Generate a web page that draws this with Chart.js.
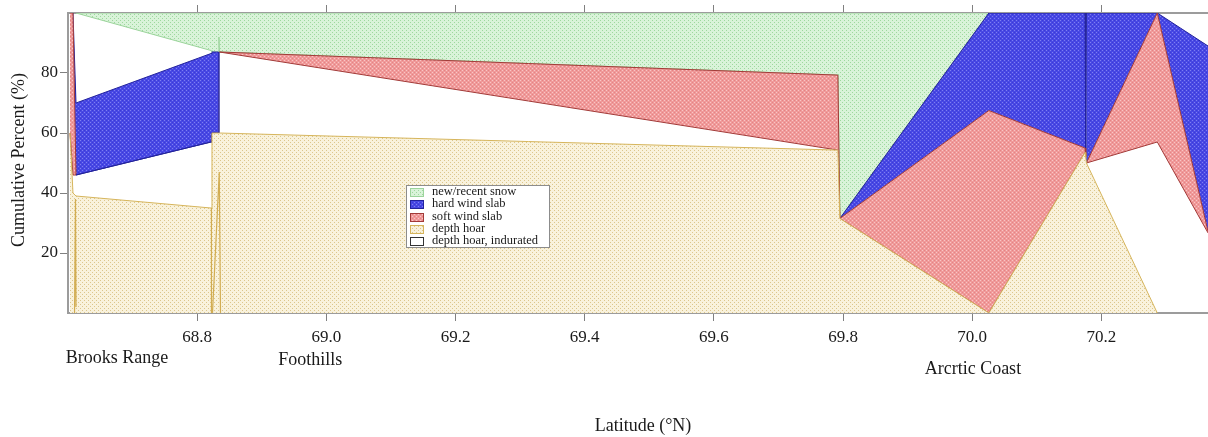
<!DOCTYPE html>
<html>
<head>
<meta charset="utf-8">
<script src="https://cdn.jsdelivr.net/npm/chart.js@4.4.1/dist/chart.umd.min.js"></script>
<style>
  html, body { margin: 0; padding: 0; background: #ffffff; }
  #wrap { width: 1208px; height: 437px; }
</style>
</head>
<body>
<div id="wrap"><canvas id="c" width="1208" height="437"></canvas></div>
<script>
// Snow-pit sites along the transect (latitude, °N)
const siteLat = [68.6031, 68.6077, 68.6124, 68.8214, 68.8229, 68.8330, 68.8337, 68.8345,
                 69.7920, 69.7950, 70.0257, 70.1746, 70.1757, 70.1768, 70.2865, 70.3650];

// Percent of snowpack depth in each layer class, listed bottom to top
const depthHoar    = [60, 40, 39, 35, 60, 60, 60, 60, 54.3, 31.5, 0,    53.5, 52, 50, 0,  0];
const indurated    = [0,  6,  7,  22, 0,  0,  27, 27, 0,    0,    0,    0,    0,  0,  57, 26.7];
const softSlab     = [40, 54, 0,  0,  0,  0,  0,  0,  25,   0,    67.5, 1.5,  0,  0,  43, 0.5];
const hardSlab     = [0,  0,  24, 29.5, 27, 27, 0, 0, 0,    0,    32.5, 45,   0,  50, 0,  61.8];
const unclassified = [0,  0,  30, 1,  0,  0,  5,  0,  0,    0,    0,    0,    0,  0,  0,  11];
const newSnow      = [0,  0,  0,  12.5, 13, 13, 8, 13, 20.7, 68.5, 0,   0,    0,  0,  0,  0];

// Depth-hoar outline traces at the closely spaced pits (null breaks the line)
const hoarEdgeLat = [68.6101, 68.6116, 68.6124, null, 68.8221, 68.8221, null, 68.8237, 68.8342, 68.8361];
const hoarEdgePct = [0,       38,      2,       null, 0,       35,      null, 0,       47,      0];

const xTicks = [68.8, 69.0, 69.2, 69.4, 69.6, 69.8, 70.0, 70.2];
const yTicks = [20, 40, 60, 80];

const regionNames = ['Brooks Range', 'Foothills', 'Arcrtic Coast'];
const regionLat   = [68.676, 68.975, 70.001];

const SERIF = '"Liberation Serif", "Times New Roman", Times, serif';
const CLEAR = 'rgba(0,0,0,0)';
const canvas = document.getElementById('c');
const ctx2d = canvas.getContext('2d');

// small halftone tile used as the fill texture of each layer
function dots(base, dot, alt) {
  const t = document.createElement('canvas');
  t.width = 4; t.height = 4;
  const g = t.getContext('2d');
  g.fillStyle = base; g.fillRect(0, 0, 4, 4);
  g.fillStyle = dot; g.fillRect(0, 0, 1, 1); g.fillRect(2, 2, 1, 1);
  if (alt) { g.fillStyle = alt; g.fillRect(2, 0, 1, 1); g.fillRect(0, 2, 1, 1); }
  return ctx2d.createPattern(t, 'repeat');
}

const layers = [
  { label: 'depth hoar',            data: depthHoar,    fill: dots('#f9f2dc', '#dcc68c'),            edge: '#d6b55c' },
  { label: 'depth hoar, indurated', data: indurated,    fill: null,                                  edge: null, swatchEdge: '#333333' },
  { label: 'soft wind slab',        data: softSlab,     fill: dots('#f09a9a', '#f9c6c6', '#e58484'), edge: '#a23a38' },
  { label: 'hard wind slab',        data: hardSlab,     fill: dots('#4848e4', '#7e7ef2', '#3a3ad6'), edge: '#22229c' },
  { label: 'unclassified',          data: unclassified, fill: null,                                  edge: null },
  { label: 'new/recent snow',       data: newSnow,      fill: dots('#d9f3d9', '#9ed89e'),            edge: '#9cd49c' }
];
const legendOrder = [5, 3, 2, 0, 1];

// outline colour of a boundary segment: the coloured layer lying directly above it
function edgeFor(i) {
  return c => {
    const a = c.p0DataIndex, b = c.p1DataIndex;
    const own = layers[i];
    if (own.edge && (own.data[a] > 0 || own.data[b] > 0)) return own.edge;
    for (let j = i + 1; j < layers.length; j++) {
      const v = layers[j].data;
      if (v[a] > 0 || v[b] > 0) return layers[j].edge || CLEAR;
    }
    return CLEAR;
  };
}

const datasets = layers.map((L, i) => ({
  label: L.label,
  data: siteLat.map((x, k) => ({ x: x, y: L.data[k] })),
  backgroundColor: L.fill || CLEAR,
  borderColor: L.edge || CLEAR,
  borderWidth: 1,
  fill: i === 0 ? 'origin' : '-1',
  pointRadius: 0,
  tension: 0,
  segment: { borderColor: edgeFor(i) }
}));

// thin depth-hoar traces drawn on their own, outside the layer stack
datasets.unshift({
  label: 'depth hoar trace',
  stack: 'trace',
  data: hoarEdgeLat.map((x, k) => ({ x: x === null ? NaN : x, y: hoarEdgePct[k] })),
  borderColor: '#d2ad52',
  borderWidth: 1.2,
  fill: false,
  pointRadius: 0,
  tension: 0,
  spanGaps: false
});

const frame = '#9c9c9c';
function axisBase(extra) {
  return Object.assign({
    type: 'linear',
    z: 1,
    grid: { drawOnChartArea: false, drawTicks: true, tickLength: 8, color: '#808080', lineWidth: 1 },
    border: { display: true, color: frame, width: 2 }
  }, extra);
}

const annotations = {
  id: 'annotations',
  afterDraw(chart) {
    const { ctx, chartArea: a, scales } = chart;
    const x = scales.x;
    ctx.save();
    ctx.fillStyle = '#1a1a1a';
    ctx.font = '18px ' + SERIF;
    ctx.textAlign = 'center';
    ctx.textBaseline = 'alphabetic';
    const drop = [50, 52, 61];
    regionNames.forEach((n, i) => ctx.fillText(n, x.getPixelForValue(regionLat[i]), a.bottom + drop[i]));
    ctx.fillText('Latitude (°N)', (a.left + a.right) / 2 + 5, a.bottom + 118);
    ctx.save();
    ctx.translate(24, (a.top + a.bottom) / 2 - 3);
    ctx.rotate(-Math.PI / 2);
    ctx.fillText('Cumulative Percent (%)', 0, 0);
    ctx.restore();

    // legend box
    const lx = 406, ly = 185, lw = 143, lh = 62;
    ctx.fillStyle = '#ffffff';
    ctx.fillRect(lx, ly, lw, lh);
    ctx.strokeStyle = '#8c8c8c';
    ctx.lineWidth = 1;
    ctx.strokeRect(lx + 0.5, ly + 0.5, lw, lh);
    ctx.font = '12.5px ' + SERIF;
    ctx.textAlign = 'left';
    ctx.textBaseline = 'middle';
    legendOrder.forEach((li, k) => {
      const L = layers[li];
      const yy = Math.round(ly + 7 + k * 12.3);
      ctx.fillStyle = L.fill || '#ffffff';
      ctx.fillRect(lx + 4, yy - 4, 14, 9);
      ctx.strokeStyle = L.edge || L.swatchEdge;
      ctx.strokeRect(lx + 4.5, yy - 3.5, 13, 8);
      ctx.fillStyle = '#1a1a1a';
      ctx.fillText(L.label, lx + 26, yy);
    });
    ctx.restore();
  }
};

Chart.defaults.font.family = SERIF;
Chart.defaults.color = '#1a1a1a';

new Chart(canvas, {
  type: 'line',
  data: { datasets: datasets },
  plugins: [annotations],
  options: {
    responsive: false,
    animation: false,
    devicePixelRatio: 1,
    events: [],
    layout: { padding: 0 },
    plugins: { legend: { display: false }, tooltip: { enabled: false }, filler: { propagate: false } },
    scales: {
      x: axisBase({
        position: 'bottom',
        min: 68.6, max: 70.365,
        afterBuildTicks: s => { s.ticks = xTicks.map(v => ({ value: v })); },
        afterFit: s => { s.height = 124; },
        ticks: { font: { size: 17 }, padding: 6, color: '#1a1a1a', callback: v => v.toFixed(1), maxRotation: 0 }
      }),
      xTop: axisBase({
        position: 'top',
        min: 68.6, max: 70.365,
        afterBuildTicks: s => { s.ticks = xTicks.map(v => ({ value: v })); },
        afterFit: s => { s.height = 13; },
        ticks: { display: false }
      }),
      y: axisBase({
        position: 'left',
        stacked: true,
        min: 0, max: 100,
        afterBuildTicks: s => { s.ticks = yTicks.map(v => ({ value: v })); },
        afterFit: s => { s.width = 68; },
        ticks: { font: { size: 17 }, padding: 2, color: '#1a1a1a' }
      })
    }
  }
});
</script>
</body>
</html>
